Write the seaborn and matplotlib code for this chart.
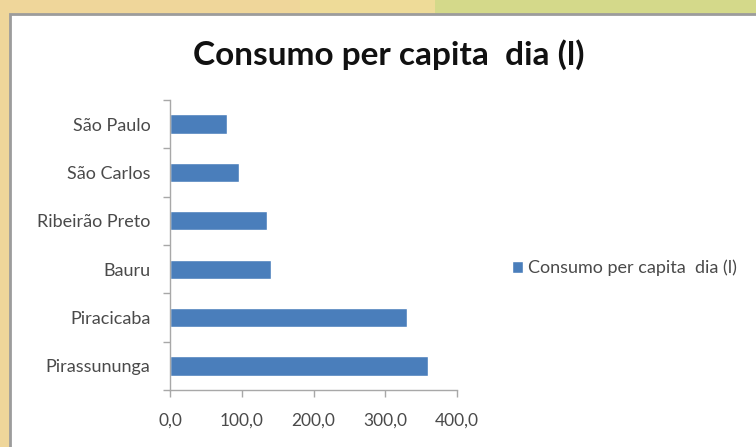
import matplotlib
matplotlib.use("Agg")
import matplotlib.pyplot as plt
from matplotlib.patches import Rectangle
import seaborn as sns
import pandas as pd

cidades = ["São Paulo", "São Carlos", "Ribeirão Preto", "Bauru", "Piracicaba", "Pirassununga"]
consumo = [79.0, 96.0, 135.0, 141.0, 330.0, 360.0]
serie = "Consumo per capita  dia (l)"
xticks = [0, 100, 200, 300, 400]
xlabels = ["0,0", "100,0", "200,0", "300,0", "400,0"]

df = pd.DataFrame({"cidade": cidades, "consumo": consumo})

sns.set_theme(style="white")
plt.rcParams["font.family"] = ["Lato", "DejaVu Sans"]

fig = plt.figure(figsize=(7.56, 4.47), dpi=100)
W, H = 756, 447

# textured backdrop: warm tan on the left, pale green on the right
fig.patches.append(Rectangle((0, 0), 1, 1, transform=fig.transFigure,
                             facecolor="#efd69a", edgecolor="none", zorder=-5))
fig.patches.append(Rectangle((300 / W, 1 - 15 / H), 135 / W, 15 / H, transform=fig.transFigure,
                             facecolor="#eedb98", edgecolor="none", zorder=-4))
fig.patches.append(Rectangle((435 / W, 1 - 15 / H), 1, 15 / H, transform=fig.transFigure,
                             facecolor="#d4d98a", edgecolor="none", zorder=-4))
# white chart panel with grey frame
fig.patches.append(Rectangle((10 / W, -0.01), 1, 1 - 14 / H + 0.01, transform=fig.transFigure,
                             facecolor="white", edgecolor="#9c9c9c", linewidth=2, zorder=-3))

ax = fig.add_axes([170 / W, 1 - 390 / H, (457 - 170) / W, (390 - 100) / H])
sns.barplot(data=df, y="cidade", x="consumo", orient="h", color="#4a7ebb",
            width=0.4, saturation=1, ax=ax, label=serie)

ax.set_xlim(0, 400)
ax.set_ylim(5.5, -0.5)
ax.set_facecolor("none")
ax.set_xlabel("")
ax.set_ylabel("")
ax.set_xticks(xticks)
ax.set_xticklabels(xlabels)
ax.set_yticks(range(len(cidades)), minor=False)
ax.set_yticklabels(cidades)

for side in ["top", "right"]:
    ax.spines[side].set_visible(False)
for side in ["left", "bottom"]:
    ax.spines[side].set_color("#a8a8a8")
    ax.spines[side].set_linewidth(1)

label_color = "#4a4a4a"
# category boundary ticks on the y axis, value ticks on x
ax.set_yticks([i - 0.5 for i in range(len(cidades) + 1)], minor=True)
ax.tick_params(axis="y", which="major", length=0, pad=14, labelsize=13, labelcolor=label_color)
ax.tick_params(axis="y", which="minor", length=5, width=1, color="#a8a8a8", direction="out", left=True)
ax.tick_params(axis="x", length=5, width=1, color="#a8a8a8", direction="out", bottom=True,
               labelsize=12.5, labelcolor=label_color, pad=11)

fig.text(389 / W, 1 - 55 / H, "Consumo per capita  dia (l)", ha="center", va="center",
         fontsize=24, fontweight="bold", color="#111111")

leg = ax.legend(loc="center left", bbox_to_anchor=(503 / W, 1 - 268 / H),
                bbox_transform=fig.transFigure, frameon=False, fontsize=13,
                handlelength=0.6, handleheight=0.6, handletextpad=0.3, borderpad=0)
for t in leg.get_texts():
    t.set_color(label_color)

fig.savefig("out.png", dpi=100)
